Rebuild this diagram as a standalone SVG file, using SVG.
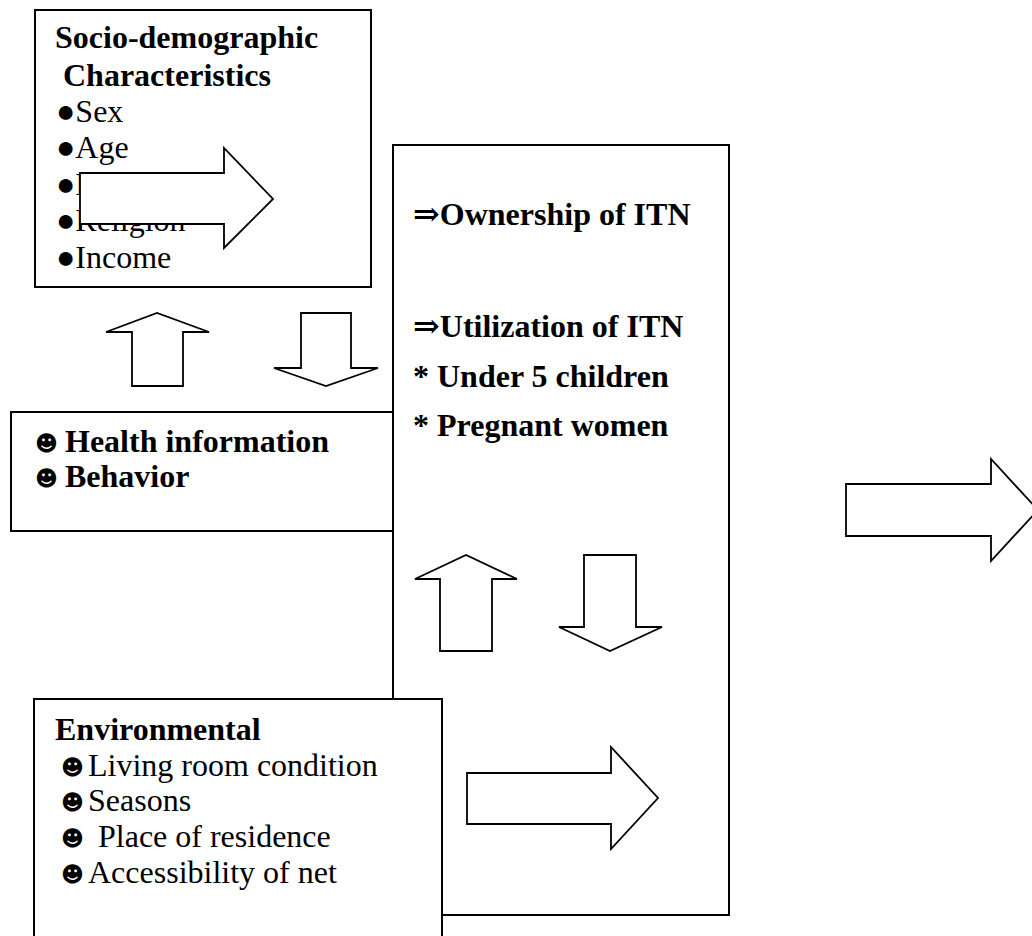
<svg xmlns="http://www.w3.org/2000/svg" width="1032" height="936" viewBox="0 0 1032 936">
<style>
.box{fill:#fff;stroke:#000;stroke-width:2}
.arr{fill:#fff;stroke:#000;stroke-width:1.8;stroke-linejoin:miter}
text{font-family:"Liberation Serif","Times New Roman","DejaVu Serif",serif;font-size:32px;fill:#000}
.b{font-weight:bold}
.sm{font-family:"DejaVu Sans",sans-serif;font-size:22px}
</style>
<rect width="1032" height="936" fill="#fff"/>
<g id="socio">
<rect class="box" x="35" y="10" width="336" height="277"/>
<text class="b" x="55" y="48">Socio-demographic</text>
<text class="b" x="63" y="86">Characteristics</text>
<text x="56" y="122">●Sex</text>
<text x="56" y="158">●Age</text>
<text x="56" y="195">●Education</text>
<text x="56" y="231">●Religion</text>
<text x="56" y="268">●Income</text>
</g>
<g id="health">
<rect class="box" x="11" y="412" width="390" height="119"/>
<text class="sm" x="35" y="451">☻</text>
<text class="b" x="65" y="452">Health information</text>
<text class="sm" x="35" y="486">☻</text>
<text class="b" x="65" y="487">Behavior</text>
</g>
<g id="itn">
<rect class="box" x="393" y="145" width="336" height="770"/>
<text class="b" x="413" y="225">⇒Ownership of ITN</text>
<text class="b" x="413" y="337">⇒Utilization of ITN</text>
<text class="b" x="413" y="387">* Under 5 children</text>
<text class="b" x="413" y="436">* Pregnant women</text>
</g>
<g id="environmental">
<rect class="box" x="34" y="699" width="408" height="250"/>
<text class="b" x="55" y="740">Environmental</text>
<text class="sm" x="61" y="775">☻</text>
<text x="88" y="776">Living room condition</text>
<text class="sm" x="61" y="810">☻</text>
<text x="88" y="811">Seasons</text>
<text class="sm" x="61" y="846">☻</text>
<text x="98" y="847">Place of residence</text>
<text class="sm" x="61" y="882">☻</text>
<text x="88" y="883">Accessibility of net</text>
</g>
<g id="connectors">
<polygon class="arr" points="80,173 224,173 224,148 273,199 224,248 224,224 80,224"/>
<polygon class="arr" points="132,386 132,332 106,332 157,313 209,332 183,332 183,386"/>
<polygon class="arr" points="301,313 351,313 351,368 378,368 326,386 274,368 301,368"/>
<polygon class="arr" points="440,651 440,579 415,579 466,555 517,579 492,579 492,651"/>
<polygon class="arr" points="584,555 636,555 636,627 662,627 610,651 559,627 584,627"/>
<polygon class="arr" points="467,773 611,773 611,747 658,798 611,849 611,824 467,824"/>
<polygon class="arr" points="846,484 991,484 991,459 1038,510 991,561 991,536 846,536"/>
</g>
</svg>
